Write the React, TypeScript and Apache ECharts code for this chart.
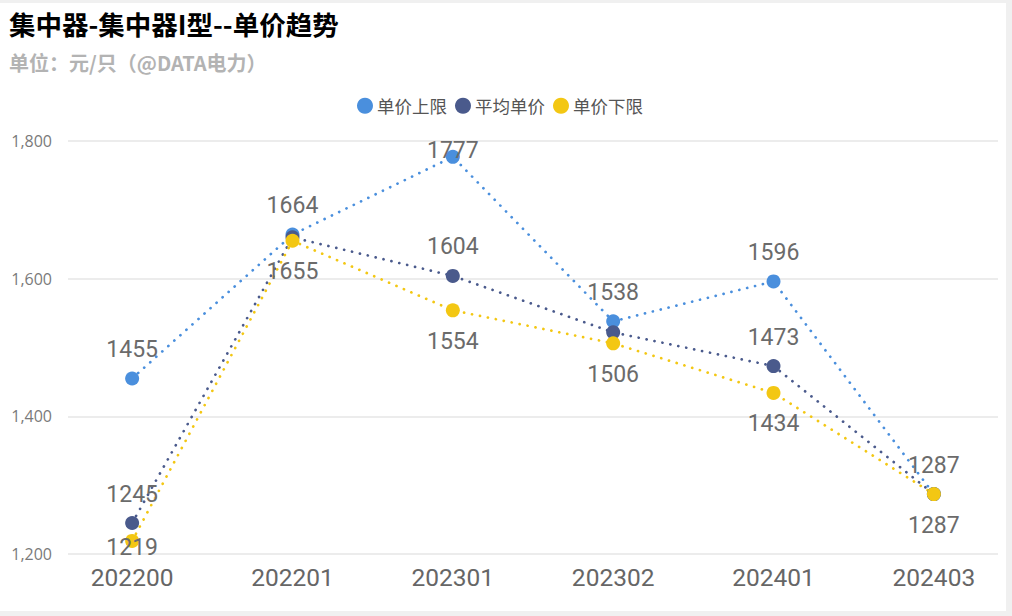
import { useEffect, useRef } from 'react';
import * as echarts from 'echarts';

// 数据
const periods = ['202200', '202201', '202301', '202302', '202401', '202403'];
const upperPrice = [1455, 1664, 1777, 1538, 1596, 1287];
const avgPrice = [1245, 1660, 1604, 1522, 1473, 1287];
const lowerPrice = [1219, 1655, 1554, 1506, 1434, 1287];
const yTicks = [1200, 1400, 1600, 1800];

const COLORS = {
    upper: '#4a8fdd',
    avg: '#4a5a8c',
    lower: '#f3c713',
};

const labelBase = {
    show: true,
    fontFamily: 'Roboto',
    fontSize: 23,
    lineHeight: 22,
    color: '#6b6b6b',
};

const App = () => {
    const chartRef = useRef<HTMLDivElement>(null);

    useEffect(() => {
        document.body.style.margin = '0';
        if (!chartRef.current) return;
        const chart = echarts.init(chartRef.current, null, { renderer: 'svg' });

        // 标签避让：部分点位手动调整
        const upperOffset: Record<number, number[]> = { 2: [0, 23] };
        const lowerOffset: Record<number, number[]> = { 0: [0, -24] };
        const avgHidden = [1, 3, 5];

        const lineSeries = (
            name: string,
            values: number[],
            color: string,
            labelFor: (i: number) => any
        ) => ({
            name,
            type: 'line',
            symbol: 'circle',
            symbolSize: 14,
            itemStyle: { color },
            lineStyle: { color, width: 2.7, type: [0.1, 8], cap: 'round' },
            data: values.map((v, i) => ({ value: [i, v], label: labelFor(i) })),
        });

        chart.setOption({
            animation: false,
            title: [
                {
                    text: '集中器-集中器I型--单价趋势',
                    left: 9,
                    top: 10,
                    padding: 0,
                    textStyle: {
                        fontFamily: 'Noto Sans CJK SC',
                        fontSize: 26.5,
                        fontWeight: 'bold',
                        color: '#000',
                    },
                },
                {
                    text: '单位：元/只（@DATA电力）',
                    left: 9,
                    top: 52,
                    padding: 0,
                    textStyle: {
                        fontFamily: 'Noto Sans CJK SC',
                        fontSize: 20,
                        fontWeight: 'bold',
                        color: '#b3b3b3',
                    },
                },
            ],
            legend: {
                left: 357,
                top: 97,
                padding: 0,
                icon: 'circle',
                itemWidth: 16,
                itemHeight: 16,
                itemGap: 8,
                textStyle: {
                    fontFamily: 'Noto Sans CJK SC',
                    fontSize: 17.5,
                    color: '#555',
                    padding: [0, 0, 0, -1],
                },
                data: ['单价上限', '平均单价', '单价下限'],
            },
            grid: { left: 68, right: 14, top: 141, bottom: 62 },
            xAxis: {
                type: 'value',
                min: -0.4,
                max: 5.4,
                splitLine: { show: false },
                axisLine: { show: false },
                axisTick: { show: false },
                axisLabel: {
                    customValues: periods.map((_, i) => i),
                    formatter: (v: number) => periods[Math.round(v)] ?? '',
                    margin: 11,
                    fontFamily: 'Roboto',
                    fontSize: 24.5,
                    color: '#666',
                },
            },
            yAxis: {
                type: 'value',
                min: yTicks[0],
                max: yTicks[yTicks.length - 1],
                interval: yTicks[1] - yTicks[0],
                axisLine: { show: false },
                axisTick: { show: false },
                splitLine: { lineStyle: { color: '#e6e6e6', width: 1.5 } },
                axisLabel: {
                    margin: 16,
                    fontFamily: 'Open Sans',
                    fontSize: 16,
                    color: '#7a7a7a',
                    formatter: (v: number) => v.toLocaleString('en-US'),
                },
            },
            series: [
                lineSeries('单价上限', upperPrice, COLORS.upper, (i) => ({
                    ...labelBase,
                    position: 'top',
                    distance: 11,
                    offset: upperOffset[i] ?? [0, 0],
                })),
                lineSeries('平均单价', avgPrice, COLORS.avg, (i) => ({
                    ...labelBase,
                    show: !avgHidden.includes(i),
                    position: 'top',
                    distance: 11,
                })),
                lineSeries('单价下限', lowerPrice, COLORS.lower, (i) => ({
                    ...labelBase,
                    position: 'bottom',
                    distance: 13,
                    offset: lowerOffset[i] ?? [0, 0],
                })),
            ],
        });

        return () => {
            chart.dispose();
        };
    }, []);

    return (
        <div style={{ position: 'relative', width: 1012, height: 616, background: '#f0f0f0' }}>
            <div
                style={{
                    position: 'absolute',
                    left: 0,
                    top: 3,
                    width: 1006,
                    height: 608,
                    background: '#fff',
                }}
            />
            <div
                ref={chartRef}
                style={{ position: 'absolute', left: 0, top: 0, width: 1012, height: 616 }}
            />
        </div>
    );
};

export default App;
